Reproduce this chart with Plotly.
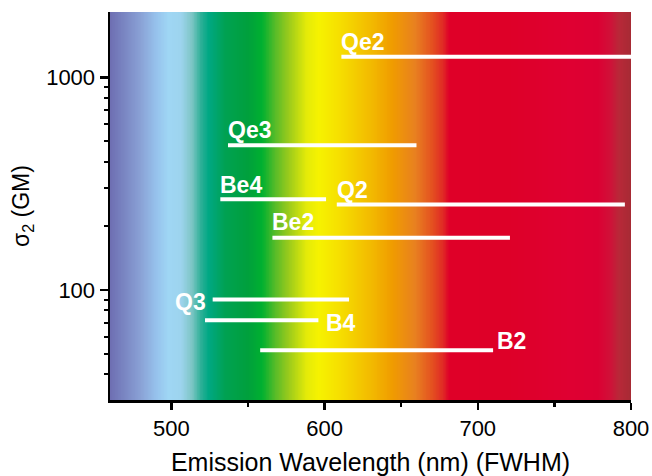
import numpy as np
import plotly.graph_objects as go

# ---- data ----
names = ["Qe2", "Qe3", "Be4", "Q2", "Be2", "Q3", "B4", "B2"]
x_start = [611, 537, 532, 608, 566, 527, 522, 558]
x_end = [800, 660, 601, 796, 721, 616, 596, 710]
sigma2 = [1250, 479, 267, 252, 176, 90, 72, 52]

x_ticks = [500, 600, 700, 800]
y_ticks = [100, 1000]

# spectrum background (wavelength nm -> colour)
spec_nm = [460, 470, 480, 490, 498, 506, 513, 519, 524, 535, 550, 559, 568, 576,
           588, 596, 609, 620, 631, 644, 659, 670, 677, 681, 720, 760, 778, 786, 792, 800]
spec_col = ["#6e6fb2", "#7b88c4", "#8aa2d6", "#96c2ec", "#9fd6f4", "#9dd4ee", "#7ec6c6",
            "#2fb098", "#00a884", "#00a152", "#00a03c", "#00b030", "#5abc28", "#98ca1c",
            "#e4ea08", "#f6f200", "#f6e000", "#f4cc00", "#f2b800", "#f09c00", "#e88020",
            "#e45020", "#e02a25", "#df0028", "#de0028", "#df0032", "#dc0033", "#d01038",
            "#b82838", "#a62a34"]

# label placement style: (xref end, xanchor, xshift, yshift)
label_style = {
    "Qe2": ("start", "left", -2, 15),
    "Qe3": ("start", "left", -2, 15),
    "Be4": ("start", "left", -2, 14),
    "Q2": ("start", "left", -2, 15),
    "Be2": ("start", "left", -2, 16),
    "Q3": ("start", "right", -5, -2),
    "B4": ("end", "left", 6, -3),
    "B2": ("end", "left", 2, 9),
}

lo, hi = spec_nm[0], spec_nm[-1]
cscale = [[(w - lo) / (hi - lo), c] for w, c in zip(spec_nm, spec_col)]
xs = np.arange(lo, hi + 0.5, 0.5)

font_main = "Liberation Sans, Arial, sans-serif"

fig = go.Figure()
fig.add_trace(go.Heatmap(
    x=xs, y=[5, 20000], z=[xs, xs], zmin=lo, zmax=hi,
    colorscale=cscale, showscale=False, hoverinfo="skip", zsmooth="best"))

for n, a, b, s in zip(names, x_start, x_end, sigma2):
    fig.add_trace(go.Scatter(x=[a, b], y=[s, s], mode="lines",
                             line=dict(color="white", width=4),
                             showlegend=False, hoverinfo="skip"))
    ref, xa, xsft, ysft = label_style[n]
    fig.add_annotation(x=a if ref == "start" else b, y=np.log10(s), text="<b>%s</b>" % n,
                       showarrow=False, xanchor=xa, yanchor="middle",
                       xshift=xsft, yshift=ysft,
                       font=dict(family=font_main, size=23, color="white"))

fig.update_layout(
    width=652, height=476,
    margin=dict(l=110, r=21, t=12, b=76),
    paper_bgcolor="white", plot_bgcolor="white",
    showlegend=False,
    font=dict(family=font_main, color="black", size=22),
)
fig.update_xaxes(
    range=[460, 800], tickvals=x_ticks, ticktext=[str(v) for v in x_ticks],
    showline=True, linecolor="black", linewidth=2.5,
    ticks="outside", ticklen=7, tickwidth=2.5, tickcolor="black",
    minor=dict(tickvals=[550, 650, 750], ticks="outside", ticklen=4,
               tickwidth=2.5, tickcolor="black"),
    showgrid=False, zeroline=False, automargin=False,
    tickfont=dict(size=22),
    title=dict(text="Emission Wavelength (nm) (FWHM)", font=dict(size=25), standoff=14),
)
fig.update_yaxes(
    type="log", range=[np.log10(30.3), np.log10(2030)],
    tickvals=y_ticks, ticktext=[str(v) for v in y_ticks],
    showline=True, linecolor="black", linewidth=2.5,
    ticks="outside", ticklen=8, tickwidth=2.5, tickcolor="black",
    minor=dict(tickvals=[40, 50, 60, 70, 80, 90, 200, 300, 400, 500, 600, 700, 800, 900],
               ticks="outside", ticklen=4, tickwidth=2, tickcolor="black"),
    showgrid=False, zeroline=False, automargin=False,
    tickfont=dict(size=22),
    title=dict(text="σ<sub>2</sub> (GM)", font=dict(size=23), standoff=10),
)

# remove the default page margin so the figure sits at the window's corner
fig.write_html("out.html",
               config={"displayModeBar": False, "staticPlot": True},
               post_script="document.body.style.margin='0';document.body.style.overflow='hidden';")
